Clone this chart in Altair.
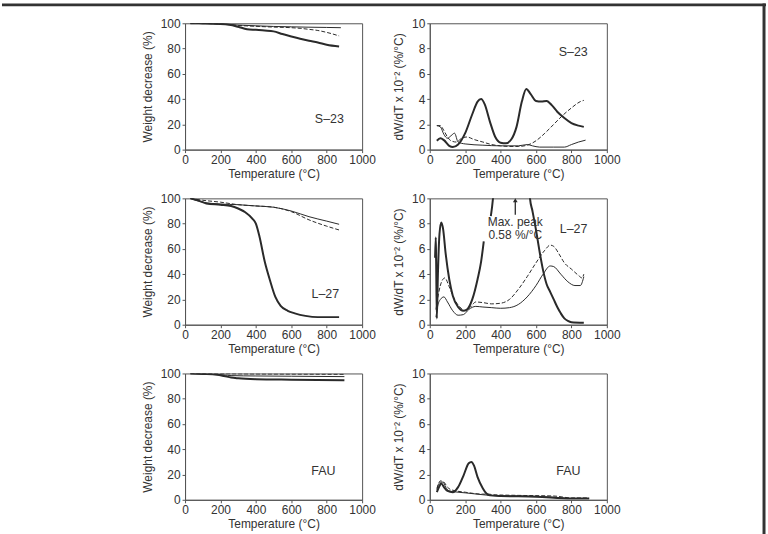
import altair as alt
import pandas as pd

# ---------------- S-23 ----------------
# TG (weight %)
s23_tg_thick_t = [30, 100, 200, 250, 300, 350, 400, 450, 500, 550, 600, 650, 700, 750, 800, 870]
s23_tg_thick_v = [100, 99.9, 99.5, 98.8, 97.2, 95.3, 94.8, 94.3, 93.6, 91.5, 89.6, 87.8, 86.2, 84.8, 83.0, 81.6]
s23_tg_thin_t = [30, 100, 200, 300, 400, 500, 600, 700, 800, 880]
s23_tg_thin_v = [100, 99.9, 99.5, 98.6, 98.0, 97.5, 97.2, 96.9, 96.7, 96.5]
s23_tg_dash_t = [30, 100, 200, 300, 400, 500, 600, 650, 700, 750, 800, 870]
s23_tg_dash_v = [100, 99.9, 99.4, 98.3, 97.6, 97.0, 96.5, 96.0, 95.2, 94.3, 92.8, 90.0]
# DTG (x 10^-2 %/°C)
s23_dtg_thick_t = [40, 60, 80, 110, 130, 160, 200, 240, 270, 290, 310, 340, 370, 400, 430, 460, 490,
                   520, 545, 570, 600, 630, 660, 690, 720, 760, 800, 840, 870]
s23_dtg_thick_v = [0.7, 0.9, 0.75, 0.3, 0.2, 0.4, 1.3, 2.8, 3.8, 4.0, 3.6, 2.2, 1.0, 0.55, 0.5, 0.8, 1.8,
                   3.8, 4.8, 4.4, 3.85, 3.8, 3.85, 3.5, 3.0, 2.5, 2.1, 1.9, 1.8]
s23_dtg_thin_t = [40, 60, 80, 100, 120, 140, 160, 200, 300, 400, 500, 550, 580, 620, 700, 760, 800, 840, 880]
s23_dtg_thin_v = [1.9, 1.8, 1.2, 0.9, 1.1, 1.3, 0.6, 0.45, 0.35, 0.3, 0.3, 0.4, 0.3, 0.2, 0.2, 0.2, 0.4, 0.6, 0.75]
s23_dtg_dash_t = [40, 60, 80, 100, 120, 150, 180, 210, 250, 300, 350, 400, 450, 500, 550, 600, 650, 700,
                  750, 800, 850, 870]
s23_dtg_dash_v = [1.9, 1.9, 1.5, 1.0, 0.7, 0.6, 0.9, 1.0, 0.8, 0.6, 0.4, 0.3, 0.25, 0.25, 0.35, 0.7, 1.3, 2.0,
                  2.7, 3.3, 3.8, 3.9]

# ---------------- L-27 ----------------
l27_tg_thick_t = [30, 80, 120, 200, 260, 300, 340, 380, 400, 420, 450, 480, 510, 540, 580, 620, 680, 750, 870]
l27_tg_thick_v = [100, 98, 96, 95, 94, 92, 89, 84, 80, 70, 50, 35, 22, 15, 11, 9, 7, 6, 6]
l27_tg_thin_t = [30, 100, 200, 300, 400, 500, 600, 700, 800, 870]
l27_tg_thin_v = [100, 97, 95.5, 95, 94, 93, 90, 85.5, 82, 79.5]
l27_tg_dash_t = [30, 100, 200, 300, 400, 500, 600, 700, 800, 870]
l27_tg_dash_v = [100, 98.5, 97, 95, 94, 93, 89.5, 83, 78, 75]
# DTG thick curve: the main peak (0.58 %/°C) runs far above the axis
l27_dtg_thick_t = [30, 34, 36, 40, 46, 55, 65, 75, 90, 110, 130, 160, 190, 210, 240, 270, 290, 305,
                   345, 360, 400, 480, 540, 566, 580, 600, 620, 640, 660, 680, 700, 720, 740, 760, 780, 800, 870]
l27_dtg_thick_v = [5.3, 6.9, 5.0, 0.5, 4.0, 7.2, 8.1, 7.6, 5.6, 3.6, 2.3, 1.4, 1.1, 1.2, 2.0, 3.6, 5.0, 6.6,
                   8.6, 10.5, 25, 58, 25, 10, 9.0, 7.5, 5.8, 4.3, 3.2, 2.6, 2.0, 1.4, 0.9, 0.5, 0.3, 0.2, 0.15]
l27_dtg_thick_seg = ["a"] * 18 + ["b"] * 19
l27_dtg_thin_t = [35, 45, 60, 80, 100, 130, 160, 190, 220, 260, 300, 350, 400, 450, 500, 550, 600, 640,
                  680, 700, 740, 780, 820, 850, 870]
l27_dtg_thin_v = [0.6, 1.5, 2.0, 2.2, 1.8, 1.1, 0.75, 0.8, 1.2, 1.45, 1.4, 1.35, 1.3, 1.35, 1.6, 2.2, 3.1, 4.0,
                  4.65, 4.6, 4.0, 3.4, 3.1, 3.1, 3.8]
l27_dtg_dash_t = [35, 50, 70, 85, 110, 140, 170, 200, 230, 260, 300, 350, 400, 450, 500, 550, 600, 650,
                  680, 700, 730, 760, 800, 840, 860, 870]
l27_dtg_dash_v = [1.2, 2.5, 3.5, 3.7, 3.0, 2.0, 1.4, 1.1, 1.4, 1.8, 1.75, 1.65, 1.7, 2.0, 2.8, 3.8, 4.9, 5.9,
                  6.3, 6.2, 5.6, 4.9, 4.4, 3.9, 3.7, 4.0]

# ---------------- FAU ----------------
fau_tg_thick_t = [30, 100, 180, 220, 260, 300, 400, 600, 900]
fau_tg_thick_v = [100, 99.6, 99, 98, 96.8, 96.2, 95.5, 95.1, 94.7]
fau_tg_thin_t = [30, 150, 220, 260, 400, 600, 900]
fau_tg_thin_v = [100, 99.5, 98.8, 98.3, 98, 97.8, 97.5]
fau_tg_dash_t = [30, 200, 400, 600, 900]
fau_tg_dash_v = [100, 99.8, 99.6, 99.5, 99.3]
fau_dtg_thick_t = [40, 55, 65, 80, 100, 130, 160, 190, 220, 235, 250, 270, 300, 320, 340, 400, 600, 800, 900]
fau_dtg_thick_v = [0.6, 1.1, 1.3, 1.0, 0.7, 0.6, 1.0, 1.9, 2.9, 3.0, 2.7, 1.8, 0.9, 0.5, 0.35, 0.3, 0.25, 0.1, 0.1]
fau_dtg_thin_t = [40, 60, 75, 90, 110, 130, 200, 300, 400, 500, 700, 800, 900]
fau_dtg_thin_v = [0.8, 1.4, 1.4, 1.0, 0.7, 0.65, 0.55, 0.4, 0.3, 0.3, 0.2, 0.1, 0.1]
fau_dtg_dash_t = [40, 60, 80, 100, 120, 200, 300, 330, 360, 500, 700, 800, 900]
fau_dtg_dash_v = [0.9, 1.5, 1.4, 1.0, 0.8, 0.6, 0.45, 0.45, 0.4, 0.35, 0.3, 0.15, 0.15]

# Sample labels inside the panels: (temperature, value)
labels_tg = {"S–23": (815, 24), "L–27": (792, 24), "FAU": (781, 23)}
labels_dtg = {"S–23": (810, 7.7), "L–27": (812, 7.6), "FAU": (783, 2.3)}
peak_note = ["Max. peak", "0.58 %/°C"]
peak_note_t = 483
peak_note_v = [8.1, 7.1]
arrow_t = 483
arrow_v = [8.7, 9.85]

TG_TITLE = "Weight decrease (%)"
DTG_TITLE = "dW/dT x 10⁻² (%/°C)"
INK = "#2a2a2a"
W, H = 178, 127


def frame(t, v, seg=None):
    df = pd.DataFrame({"T": t, "v": v})
    df["seg"] = seg if seg is not None else "a"
    return df


def panel(ymax, ytitle, thick, thin, dashed, label, extra=()):
    step = ymax / 5
    x = alt.X("T:Q", scale=alt.Scale(domain=[0, 1000], nice=False),
              axis=alt.Axis(values=[0, 200, 400, 600, 800, 1000], format="d", title="Temperature (°C)"))
    y = alt.Y("v:Q", scale=alt.Scale(domain=[0, ymax], nice=False),
              axis=alt.Axis(values=[round(i * step) for i in range(6)], format="d", title=ytitle))
    base = lambda df: alt.Chart(df).encode(x=x, y=y, detail="seg:N")
    layers = [
        base(dashed).mark_line(color=INK, strokeWidth=1, strokeDash=[4, 2], interpolate="monotone", clip=True),
        base(thin).mark_line(color=INK, strokeWidth=1, interpolate="monotone", clip=True),
        base(thick).mark_line(color=INK, strokeWidth=2, interpolate="monotone", clip=True),
        alt.Chart(pd.DataFrame({"T": [label[1][0]], "v": [label[1][1]], "txt": [label[0]]}))
        .mark_text(fontSize=12.5, color="#333").encode(x=x, y=y, text="txt:N"),
    ]
    layers.extend(e(x, y) for e in extra)
    return alt.layer(*layers).properties(width=W, height=H)


def peak_annotation(x, y):
    note = alt.Chart(pd.DataFrame({"T": [peak_note_t] * 2, "v": peak_note_v, "txt": peak_note})) \
        .mark_text(fontSize=12, color="#333").encode(x=x, y=y, text="txt:N")
    shaft = alt.Chart(pd.DataFrame({"T": [arrow_t], "v": [arrow_v[0]], "v2": [arrow_v[1]]})) \
        .mark_rule(color=INK, strokeWidth=1.3).encode(x=x, y=y, y2="v2:Q")
    head = alt.Chart(pd.DataFrame({"T": [arrow_t], "v": [arrow_v[1]]})) \
        .mark_point(shape="triangle-up", filled=True, size=22, color=INK, opacity=1).encode(x=x, y=y)
    return note + shaft + head


def top_border(x, y):
    return alt.Chart(pd.DataFrame({"k": [0]})).mark_rule(color="#333", strokeWidth=3).encode(
        x=alt.value(-184), x2=alt.value(584), y=alt.value(-18.5))


def right_border(x, y):
    return alt.Chart(pd.DataFrame({"k": [0]})).mark_rule(color="#333", strokeWidth=3).encode(
        x=alt.value(336), y=alt.value(-20), y2=alt.value(514))


p1 = panel(100, TG_TITLE, frame(s23_tg_thick_t, s23_tg_thick_v), frame(s23_tg_thin_t, s23_tg_thin_v),
           frame(s23_tg_dash_t, s23_tg_dash_v), ("S–23", labels_tg["S–23"]), extra=[top_border])
p2 = panel(10, DTG_TITLE, frame(s23_dtg_thick_t, s23_dtg_thick_v), frame(s23_dtg_thin_t, s23_dtg_thin_v),
           frame(s23_dtg_dash_t, s23_dtg_dash_v), ("S–23", labels_dtg["S–23"]), extra=[right_border])
p3 = panel(100, TG_TITLE, frame(l27_tg_thick_t, l27_tg_thick_v), frame(l27_tg_thin_t, l27_tg_thin_v),
           frame(l27_tg_dash_t, l27_tg_dash_v), ("L–27", labels_tg["L–27"]))
p4 = panel(10, DTG_TITLE, frame(l27_dtg_thick_t, l27_dtg_thick_v, l27_dtg_thick_seg),
           frame(l27_dtg_thin_t, l27_dtg_thin_v), frame(l27_dtg_dash_t, l27_dtg_dash_v),
           ("L–27", labels_dtg["L–27"]), extra=[peak_annotation])
p5 = panel(100, TG_TITLE, frame(fau_tg_thick_t, fau_tg_thick_v), frame(fau_tg_thin_t, fau_tg_thin_v),
           frame(fau_tg_dash_t, fau_tg_dash_v), ("FAU", labels_tg["FAU"]))
p6 = panel(10, DTG_TITLE, frame(fau_dtg_thick_t, fau_dtg_thick_v), frame(fau_dtg_thin_t, fau_dtg_thin_v),
           frame(fau_dtg_dash_t, fau_dtg_dash_v), ("FAU", labels_dtg["FAU"]))

chart = alt.concat(p1, p2, p3, p4, p5, p6, columns=2, spacing={"row": 49, "column": 68},
                   bounds="flush").properties(padding=0, background="white").configure(
    font="Liberation Sans"
).configure_view(
    stroke="#555", strokeWidth=1
).configure_axis(
    grid=False, domainColor="#555", tickColor="#555", tickSize=3,
    labelFontSize=12, titleFontSize=12, labelColor="#333", titleColor="#333",
    titleFontWeight="normal", labelPadding=2, labelOverlap=False, labelFlush=False
).configure_axisX(titlePadding=3).configure_axisY(titlePadding=6)

chart.save("out.html", embed_options={"renderer": "svg", "actions": False})
